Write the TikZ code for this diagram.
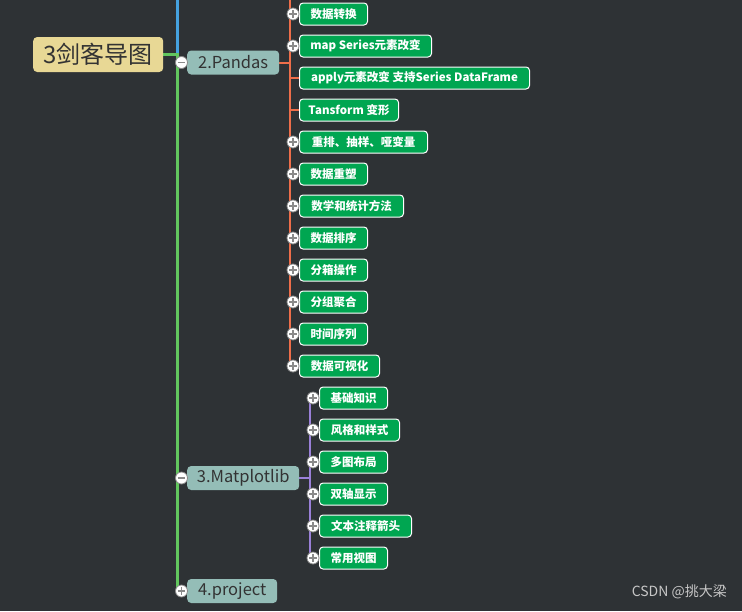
\documentclass[tikz,border=0pt]{standalone}
\usepackage{fontspec}
\setmainfont{Noto Sans CJK SC}
\usetikzlibrary{backgrounds}
\definecolor{bg}{HTML}{2E3235}
\definecolor{leafgreen}{HTML}{00A651}
\definecolor{topicfill}{HTML}{94BDB7}
\definecolor{rootfill}{HTML}{E8D895}
\definecolor{darktext}{HTML}{333333}
\definecolor{lblue}{HTML}{45A2E0}
\definecolor{lgreen}{HTML}{62C65E}
\definecolor{lorange}{HTML}{EE6E4A}
\definecolor{lpurple}{HTML}{9A80D8}
\definecolor{circgray}{HTML}{8A8A8A}
\tikzset{
  leaf/.style={draw=white, line width=1pt, fill=leafgreen, rounded corners=3.5pt,
    text=white, font=\fontsize{11.5}{13}\selectfont\bfseries, minimum height=22pt,
    inner sep=0pt, anchor=west},
  topic/.style={fill=topicfill, rounded corners=4pt, text=darktext,
    font=\fontsize{16.5}{18}\selectfont, minimum height=24pt, inner sep=0pt, anchor=west},
  rootbox/.style={fill=rootfill, rounded corners=4pt, text=darktext,
    font=\fontsize{24}{26}\selectfont, minimum height=35pt, minimum width=130pt,
    inner sep=0pt, anchor=west},
  toggle/.style={circle, draw=circgray, line width=0.8pt, fill=white,
    minimum size=12pt, inner sep=0pt},
  signline/.style={draw=circgray, line width=1.4pt},
  trunk/.style={line width=3pt},
  twig/.style={line width=2pt},
}
\begin{document}
\begin{tikzpicture}[x=1pt, y=-1pt]
\useasboundingbox (0,0) rectangle (742,611);

% nodes
\node[rootbox] (root) at (33,54.5) {3剑客导图};
\node[topic, minimum width=92pt] (pandas) at (187,62.5) {2.Pandas};
\node[topic, minimum width=112pt] (mpl) at (187,478) {3.Matplotlib};
\node[topic, minimum width=90pt] (proj) at (187,591) {4.project};

\node[leaf, minimum width=68pt] (p1) at (299,14) {数据转换};
\node[leaf, minimum width=132pt] (p2) at (299,46) {map Series元素改变};
\node[leaf, minimum width=230pt] (p3) at (299,78) {apply元素改变 支持Series DataFrame};
\node[leaf, minimum width=99pt] (p4) at (299,110) {Tansform 变形};
\node[leaf, minimum width=128pt] (p5) at (299,142) {重排、抽样、哑变量};
\node[leaf, minimum width=68pt] (p6) at (299,174) {数据重塑};
\node[leaf, minimum width=104pt] (p7) at (299,206) {数学和统计方法};
\node[leaf, minimum width=68pt] (p8) at (299,238) {数据排序};
\node[leaf, minimum width=68pt] (p9) at (299,270) {分箱操作};
\node[leaf, minimum width=68pt] (p10) at (299,302) {分组聚合};
\node[leaf, minimum width=68pt] (p11) at (299,334) {时间序列};
\node[leaf, minimum width=80pt] (p12) at (299,366) {数据可视化};

\node[leaf, minimum width=68pt] (m1) at (319,398) {基础知识};
\node[leaf, minimum width=80pt] (m2) at (319,430) {风格和样式};
\node[leaf, minimum width=68pt] (m3) at (319,462) {多图布局};
\node[leaf, minimum width=68pt] (m4) at (319,494) {双轴显示};
\node[leaf, minimum width=92pt] (m5) at (319,526) {文本注释箭头};
\node[leaf, minimum width=68pt] (m6) at (319,558) {常用视图};

\node[text=white!78!black, font=\fontsize{14}{16}\selectfont, anchor=east, inner sep=0pt] (mark) at (727,592) {CSDN @挑大梁};

% coordinates
\coordinate (btop) at (177,0);
\coordinate (gjoint) at (177,54.5);
\coordinate (otop) at (290,0);
\coordinate (overt) at (290,62.5);
\coordinate (pvert) at (310,478);

% background and connectors behind the boxes
\begin{scope}[on background layer]
\fill[bg] (0,0) rectangle (742,611);
\draw[lblue, trunk] (btop) -- (gjoint);
\draw[lgreen, trunk] (root.east) -- (gjoint) -- (gjoint |- proj.west);
\draw[lorange, twig] (pandas.east) -- (overt);
\draw[lorange, twig] (otop) -- (otop |- p12.west);
\foreach \i in {1,...,12}{
  \draw[lorange, twig] (otop |- p\i.west) -- (p\i.west);
}
\draw[lpurple, twig] (mpl.east) -- (pvert);
\draw[lpurple, twig] (pvert |- m1.west) -- (pvert |- m6.west);
\foreach \i in {1,...,6}{
  \draw[lpurple, twig] (pvert |- m\i.west) -- (m\i.west);
}
\end{scope}

% toggles
\foreach \n/\t in {pandasT/pandas, mplT/mpl}{
  \node[toggle] (\n) at ([xshift=-5.5pt]\t.west) {};
  \draw[signline] ([xshift=-3.8pt]\n.center) -- ([xshift=3.8pt]\n.center);
}
\node[toggle] (projT) at ([xshift=-5.5pt]proj.west) {};
\draw[signline] ([xshift=-3.8pt]projT.center) -- ([xshift=3.8pt]projT.center);
\draw[signline] ([yshift=-3.8pt]projT.center) -- ([yshift=3.8pt]projT.center);

\foreach \i in {1,2,5,6,7,8,9,10,11,12}{
  \node[toggle] (pt\i) at ([xshift=-6pt]p\i.west) {};
  \draw[signline] ([xshift=-3.8pt]pt\i.center) -- ([xshift=3.8pt]pt\i.center);
  \draw[signline] ([yshift=-3.8pt]pt\i.center) -- ([yshift=3.8pt]pt\i.center);
}
\foreach \i in {1,...,6}{
  \node[toggle] (mt\i) at ([xshift=-6pt]m\i.west) {};
  \draw[signline] ([xshift=-3.8pt]mt\i.center) -- ([xshift=3.8pt]mt\i.center);
  \draw[signline] ([yshift=-3.8pt]mt\i.center) -- ([yshift=3.8pt]mt\i.center);
}
\end{tikzpicture}
\end{document}
